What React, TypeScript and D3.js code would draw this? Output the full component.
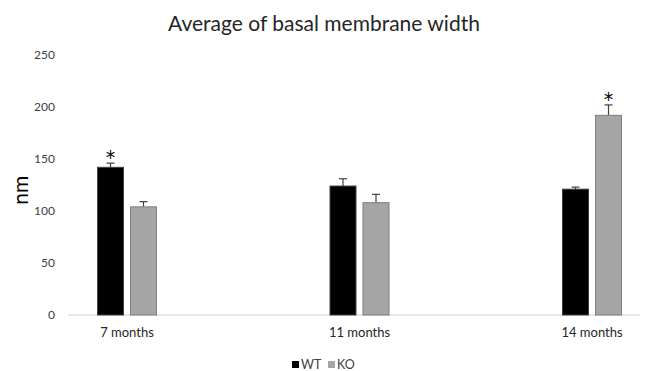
import React from "react";
import * as d3 from "d3";

const categories = ["7 months", "11 months", "14 months"];
const seriesNames = ["WT", "KO"];
const wtValues = [142, 124, 121];
const wtErrors = [4, 7, 2];
const koValues = [104, 108, 192];
const koErrors = [5, 8, 10];
const significant = [[true, false], [false, false], [false, true]];
const yTicks = [0, 50, 100, 150, 200, 250];

const W = 645, H = 371;
const font = "Lato, 'Open Sans', sans-serif";

export default function App() {
  const y = d3.scaleLinear().domain([0, 250]).range([315, 55]);
  const x = d3.scalePoint<string>().domain(categories).range([127, 592]);
  const barW = 26, gap = 7;
  const fills = ["#000000", "#a5a5a5"];
  const strokes = ["#404040", "#7f7f7f"];
  const vals = [wtValues, koValues];
  const errs = [wtErrors, koErrors];

  return (
    <svg width={W} height={H} style={{ position: "absolute", left: 0, top: 0, background: "#fff" }}>
      <rect width={W} height={H} fill="#fff" />
      <text x={324} y={31} textAnchor="middle" fontFamily={font} fontSize={21} fill="#262626">
        Average of basal membrane width
      </text>
      {yTicks.map((t) => (
        <text key={t} x={55} y={y(t) + 4} textAnchor="end" fontFamily={font} fontSize={12} fill="#404040">
          {t}
        </text>
      ))}
      <text transform={`translate(28,${y(120)}) rotate(-90)`} textAnchor="middle" fontFamily={font} fontSize={21} fill="#000">
        nm
      </text>
      <line x1={68} x2={640} y1={y(0)} y2={y(0)} stroke="#d0d0d0" strokeWidth={1} />
      {categories.map((c, i) => {
        const cx = x(c)!;
        return (
          <g key={c}>
            {[0, 1].map((s) => {
              const x0 = s === 0 ? cx - gap / 2 - barW : cx + gap / 2;
              const v = vals[s][i];
              const e = errs[s][i];
              const mid = x0 + barW / 2;
              return (
                <g key={s}>
                  <line x1={mid} x2={mid} y1={y(v)} y2={y(v + e)} stroke="#404040" strokeWidth={1.2} />
                  <line x1={mid - 4} x2={mid + 4} y1={y(v + e)} y2={y(v + e)} stroke="#404040" strokeWidth={1.2} />
                  <rect x={x0} y={y(v)} width={barW} height={y(0) - y(v)} fill={fills[s]} stroke={strokes[s]} strokeWidth={1} />
                  {significant[i][s] && (
                    <text x={mid} y={y(v + e) + 1} textAnchor="middle" fontFamily="'DejaVu Sans', sans-serif" fontSize={19} fill="#000">
                      *
                    </text>
                  )}
                </g>
              );
            })}
            <text x={cx} y={337} textAnchor="middle" fontFamily={font} fontSize={13} fill="#262626">
              {c}
            </text>
          </g>
        );
      })}
      <g>
        <rect x={292} y={361} width={7} height={7} fill={fills[0]} />
        <text x={301} y={368.5} fontFamily={font} fontSize={12.5} fill="#404040">{seriesNames[0]}</text>
        <rect x={328} y={361} width={7} height={7} fill={fills[1]} />
        <text x={337} y={368.5} fontFamily={font} fontSize={12.5} fill="#404040">{seriesNames[1]}</text>
      </g>
    </svg>
  );
}
